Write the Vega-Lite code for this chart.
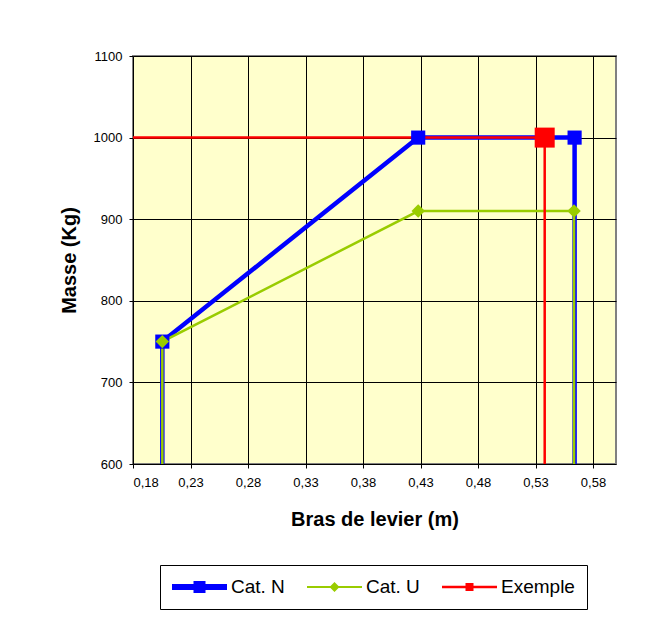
{
  "$schema": "https://vega.github.io/schema/vega-lite/v6.json",
  "width": 483,
  "height": 408,
  "autosize": "none",
  "padding": {"left": 133, "top": 56, "right": 41, "bottom": 156},
  "background": "white",
  "config": {
    "view": {"fill": "#FFFFCC", "stroke": "#808080", "strokeWidth": 2},
    "font": "Liberation Sans",
    "axis": {
      "labelFont": "Liberation Sans",
      "labelFontSize": 13,
      "labelColor": "black",
      "titleFont": "Liberation Sans",
      "titleFontSize": 20,
      "titleFontWeight": "bold",
      "titleColor": "black",
      "grid": true,
      "gridColor": "black",
      "gridOpacity": 1,
      "gridWidth": 1,
      "tickColor": "black",
      "tickSize": 4,
      "domain": false
    }
  },
  "data": {
    "values": [
      {"series": "Cat. N", "x": 0.2055, "y": 0, "ord": 1},
      {"series": "Cat. N", "x": 0.2055, "y": 750, "ord": 2},
      {"series": "Cat. N", "x": 0.428, "y": 1000, "ord": 3},
      {"series": "Cat. N", "x": 0.564, "y": 1000, "ord": 4},
      {"series": "Cat. N", "x": 0.564, "y": 0, "ord": 5},
      {"series": "Cat. U", "x": 0.2055, "y": 0, "ord": 1},
      {"series": "Cat. U", "x": 0.2055, "y": 750, "ord": 2},
      {"series": "Cat. U", "x": 0.428, "y": 910, "ord": 3},
      {"series": "Cat. U", "x": 0.5635, "y": 910, "ord": 4},
      {"series": "Cat. U", "x": 0.5635, "y": 0, "ord": 5},
      {"series": "Exemple", "x": 0, "y": 1000, "ord": 1},
      {"series": "Exemple", "x": 0.538, "y": 1000, "ord": 2},
      {"series": "Exemple", "x": 0.538, "y": 0, "ord": 3}
    ]
  },
  "encoding": {
    "x": {
      "field": "x", "type": "quantitative",
      "scale": {"domain": [0.18, 0.6], "nice": false, "zero": false},
      "axis": {
        "title": "Bras de levier (m)",
        "values": [0.18, 0.23, 0.28, 0.33, 0.38, 0.43, 0.48, 0.53, 0.58],
        "labelExpr": "replace(format(datum.value, '.2f'), '.', ',')",
        "labelPadding": 8,
        "titlePadding": 20
      }
    },
    "y": {
      "field": "y", "type": "quantitative",
      "scale": {"domain": [600, 1100], "nice": false, "zero": false},
      "axis": {
        "title": "Masse (Kg)",
        "values": [600, 700, 800, 900, 1000, 1100],
        "format": "d",
        "labelPadding": 7,
        "titlePadding": 14
      }
    },
    "order": {"field": "ord", "type": "quantitative"}
  },
  "layer": [
    {
      "transform": [{"filter": "datum.series === 'Cat. N'"}],
      "mark": {"type": "line", "clip": true, "strokeWidth": 4.5},
      "encoding": {
        "color": {
          "field": "series", "type": "nominal",
          "scale": {"domain": ["Cat. N", "Cat. U", "Exemple"], "range": ["#0000FF", "#99CC00", "#FF0000"]},
          "legend": {
            "title": null,
            "orient": "none",
            "direction": "horizontal",
            "legendX": 27,
            "legendY": 509,
            "padding": 12,
            "strokeColor": "black",
            "fillColor": "white",
            "columnPadding": 22,
            "symbolSize": 400,
            "labelOffset": 39,
            "labelFont": "Liberation Sans",
            "labelFontSize": 19,
            "labelColor": "black",
            "encode": {
              "symbols": {
                "update": {
                  "shape": {"signal": "datum.value === 'Cat. N' ? 'M-1,-0.3H4.5V0.3H-1Z M1.15,-0.6H2.35V0.6H1.15Z' : datum.value === 'Cat. U' ? 'M-1,-0.1H4.5V0.1H-1Z M1.75,-0.5L2.25,0L1.75,0.5L1.25,0Z' : 'M-1,-0.125H4.5V0.125H-1Z M1.35,-0.4H2.15V0.4H1.35Z'"},
                  "fill": {"scale": "color", "field": "value"},
                  "fillOpacity": {"value": 1},
                  "stroke": {"value": "transparent"},
                  "strokeWidth": {"value": 0},
                  "opacity": {"value": 1}
                }
              }
            }
          }
        }
      }
    },
    {
      "transform": [{"filter": "datum.series === 'Cat. U'"}],
      "mark": {"type": "line", "clip": true, "strokeWidth": 2.5},
      "encoding": {
        "color": {
          "field": "series", "type": "nominal",
          "scale": {"domain": ["Cat. N", "Cat. U", "Exemple"], "range": ["#0000FF", "#99CC00", "#FF0000"]}
        }
      }
    },
    {
      "transform": [{"filter": "datum.series === 'Exemple'"}],
      "mark": {"type": "line", "clip": true, "strokeWidth": 2.5},
      "encoding": {
        "color": {
          "field": "series", "type": "nominal",
          "scale": {"domain": ["Cat. N", "Cat. U", "Exemple"], "range": ["#0000FF", "#99CC00", "#FF0000"]}
        }
      }
    },
    {
      "transform": [{"filter": "datum.series === 'Cat. N'"}],
      "mark": {"type": "point", "shape": "square", "filled": true, "opacity": 1, "size": 200, "color": "#0000FF", "clip": true},
      "encoding": {}
    },
    {
      "transform": [{"filter": "datum.series === 'Cat. U'"}],
      "mark": {"type": "point", "shape": "diamond", "filled": true, "opacity": 1, "size": 180, "color": "#99CC00", "clip": true},
      "encoding": {}
    },
    {
      "transform": [{"filter": "datum.series === 'Exemple'"}],
      "mark": {"type": "point", "shape": "square", "filled": true, "opacity": 1, "size": 400, "color": "#FF0000", "clip": true},
      "encoding": {}
    }
  ]
}
